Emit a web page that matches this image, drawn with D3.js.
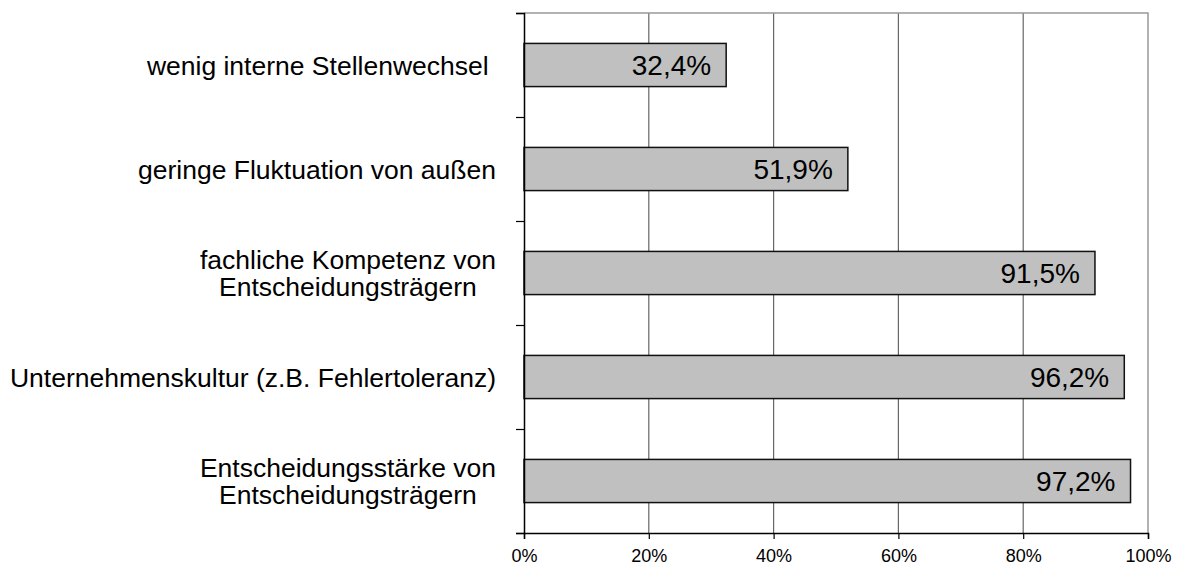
<!DOCTYPE html>
<html>
<head>
<meta charset="utf-8">
<script src="https://cdn.jsdelivr.net/npm/d3@7"></script>
<style>
  body { margin: 0; background: #fff; }
  text { font-family: "Liberation Sans", Arial, sans-serif; }
</style>
</head>
<body>
<div class="chart"></div>
<script>
(function() {
  'use strict';

  const WIDTH = 1181;
  const HEIGHT = 566;

  // Chart data
  const CATEGORIES = [
    'wenig interne Stellenwechsel ',
    'geringe Fluktuation von außen',
    'fachliche Kompetenz von\nEntscheidungsträgern',
    'Unternehmenskultur (z.B. Fehlertoleranz)',
    'Entscheidungsstärke von\nEntscheidungsträgern'
  ];
  const VALUES = [32.4, 51.9, 91.5, 96.2, 97.2];
  const X_TICKS = [0, 20, 40, 60, 80, 100];

  const margin = {top: 13, right: 33, bottom: 33, left: 524};
  const w = WIDTH - margin.left - margin.right;
  const h = HEIGHT - margin.top - margin.bottom;

  const de = d3.formatLocale({decimal: ',', thousands: '.', grouping: [3], currency: ['', ' €']});
  const fmtVal = de.format('.1f');

  const svg = d3.select('.chart')
    .append('svg')
    .attr('width', WIDTH)
    .attr('height', HEIGHT);

  const g = svg.append('g')
    .attr('transform', 'translate(' + margin.left + ',' + margin.top + ')');

  const x = d3.scaleLinear().domain([0, 100]).range([0, w]);
  const y = d3.scaleBand()
    .domain(CATEGORIES)
    .range([0, h])
    .paddingInner(0.585)
    .paddingOuter(0.2925);
  // boundaries between categories for the left ticks
  const yIdx = d3.scaleLinear().domain([0, CATEGORIES.length]).range([0, h]);

  // Gridlines
  g.append('g').selectAll('line')
    .data(X_TICKS.filter(d => d > 0 && d < 100))
    .join('line')
    .attr('x1', d => x(d)).attr('x2', d => x(d))
    .attr('y1', 0).attr('y2', h)
    .attr('stroke', '#666').attr('stroke-width', 1.2);

  // Plot frame top and right
  g.append('path')
    .attr('d', 'M0,0H' + x(100) + 'V' + h)
    .attr('fill', 'none')
    .attr('stroke', '#999')
    .attr('stroke-width', 1.5);

  // Bars
  g.append('g').selectAll('rect')
    .data(VALUES)
    .join('rect')
    .attr('x', 0)
    .attr('y', (d, i) => y(CATEGORIES[i]))
    .attr('width', d => x(d))
    .attr('height', y.bandwidth())
    .attr('fill', '#c0c0c0')
    .attr('stroke', '#111')
    .attr('stroke-width', 1.5);

  // Value labels
  g.append('g').selectAll('text')
    .data(VALUES)
    .join('text')
    .attr('x', d => x(d) - 15)
    .attr('y', (d, i) => y(CATEGORIES[i]) + y.bandwidth() / 2 + 10)
    .attr('text-anchor', 'end')
    .attr('font-size', 28)
    .attr('fill', '#000')
    .text(d => fmtVal(d) + '%');

  // Y axis (ticks at category boundaries)
  const yAxis = g.append('g')
    .call(d3.axisLeft(yIdx).ticks(CATEGORIES.length).tickSize(8).tickFormat(''));
  yAxis.select('.domain').attr('stroke', '#000').attr('stroke-width', 1.5);
  yAxis.selectAll('.tick line').attr('stroke', '#000').attr('stroke-width', 1.2);

  // X axis
  const xAxis = g.append('g')
    .attr('transform', 'translate(0,' + h + ')')
    .call(d3.axisBottom(x).tickValues(X_TICKS).tickSize(6).tickPadding(10)
      .tickFormat(d => d + '%'));
  xAxis.select('.domain').attr('stroke', '#000').attr('stroke-width', 1.5);
  xAxis.selectAll('.tick line').attr('stroke', '#000').attr('stroke-width', 1.2);
  xAxis.selectAll('.tick text')
    .attr('font-size', 18)
    .attr('font-family', '"Liberation Sans", Arial, sans-serif')
    .attr('fill', '#000');

  // Category labels: block right-aligned, lines centered within block
  const labelRight = 496 - margin.left;
  const lineH = 27.5;
  CATEGORIES.forEach(function(cat, i) {
    const lines = cat.split('\n');
    const cy = y(cat) + y.bandwidth() / 2;
    const t = g.append('text')
      .attr('font-size', 26.5)
      .attr('fill', '#000')
      .style('white-space', 'pre');
    const spans = lines.map(function(line, j) {
      return t.append('tspan')
        .attr('y', cy + 9.5 + (j - (lines.length - 1) / 2) * lineH)
        .text(line);
    });
    let maxW = 0;
    spans.forEach(function(s) { maxW = Math.max(maxW, s.node().getComputedTextLength()); });
    const cx = labelRight - maxW / 2;
    spans.forEach(function(s) {
      s.attr('x', cx).attr('text-anchor', 'middle');
    });
  });
})();
</script>
</body>
</html>
